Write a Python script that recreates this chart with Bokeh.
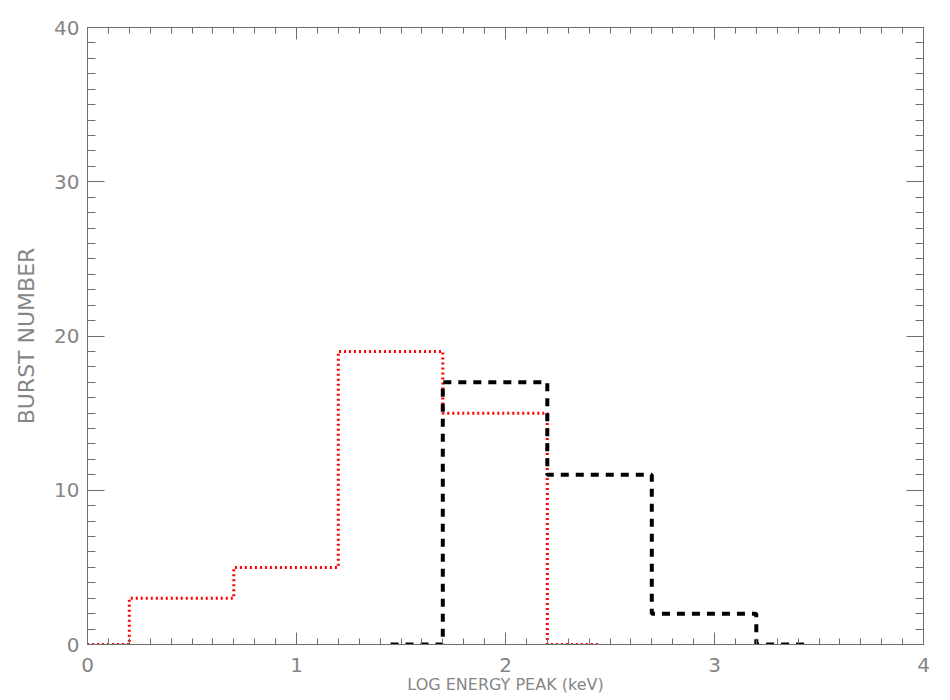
from bokeh.plotting import figure
from bokeh.models import (Range1d, LinearAxis, SingleIntervalTicker, ColumnDataSource,
                          CustomJSTickFormatter)
from bokeh.embed import file_html
from bokeh.resources import INLINE

# Histogram data (bin centres, counts)
red_centers = [-0.05, 0.45, 0.95, 1.45, 1.95, 2.45]
red_counts = [0, 3, 5, 19, 15, 0]
black_centers = [1.45, 1.95, 2.45, 2.95, 3.45]
black_counts = [0, 17, 11, 2, 0]

x_title = "LOG ENERGY PEAK (keV)"
y_title = "BURST NUMBER"

FONT = "DejaVu Sans"
AXC = "#6e6e6e"
TXC = "#858585"

p = figure(width=934, height=700, x_range=Range1d(0, 4), y_range=Range1d(0, 40),
           output_backend="svg", toolbar_location=None,
           x_axis_location=None, y_axis_location=None,
           min_border_left=87, min_border_right=11, min_border_top=27, min_border_bottom=56)
p.outline_line_color = None
p.xgrid.visible = False
p.ygrid.visible = False
p.background_fill_color = "white"
p.border_fill_color = "white"


def style(ax, tin, min_in, labels=True):
    ax.axis_line_color = AXC
    ax.major_tick_line_color = AXC
    ax.minor_tick_line_color = AXC
    ax.major_tick_in = tin
    ax.major_tick_out = 0
    ax.minor_tick_in = min_in
    ax.minor_tick_out = 0
    if labels:
        ax.major_label_text_font = FONT
        ax.major_label_text_font_size = "20px"
        ax.major_label_text_color = TXC
    else:
        ax.formatter = CustomJSTickFormatter(code="return ''")
        ax.major_label_standoff = 0


xb = LinearAxis(ticker=SingleIntervalTicker(interval=1, num_minor_ticks=10))
style(xb, 12, 6)
xb.major_label_standoff = 13
xb.axis_label = x_title
xb.axis_label_text_font = FONT
xb.axis_label_text_font_size = "16px"
xb.axis_label_text_font_style = "normal"
xb.axis_label_text_color = TXC
xb.axis_label_standoff = 0
p.add_layout(xb, "below")

xt = LinearAxis(ticker=SingleIntervalTicker(interval=1, num_minor_ticks=10))
style(xt, 12, 6, labels=False)
p.add_layout(xt, "above")

yl = LinearAxis(ticker=SingleIntervalTicker(interval=10, num_minor_ticks=10))
style(yl, 17, 8)
yl.major_label_standoff = 8
yl.axis_label = y_title
yl.axis_label_text_font = FONT
yl.axis_label_text_font_size = "22px"
yl.axis_label_text_font_style = "normal"
yl.axis_label_text_color = TXC
yl.axis_label_standoff = 12
p.add_layout(yl, "left")

yr = LinearAxis(ticker=SingleIntervalTicker(interval=10, num_minor_ticks=10))
style(yr, 17, 8, labels=False)
p.add_layout(yr, "right")

red = ColumnDataSource(dict(x=red_centers, y=red_counts))
black = ColumnDataSource(dict(x=black_centers, y=black_counts))

p.step("x", "y", source=red, mode="center", line_color="#ff0000", line_width=3, line_dash="2 3")
p.step("x", "y", source=black, mode="center", line_color="black", line_width=4, line_dash="8 7")

open("out.html", "w").write(file_html(p, INLINE))
